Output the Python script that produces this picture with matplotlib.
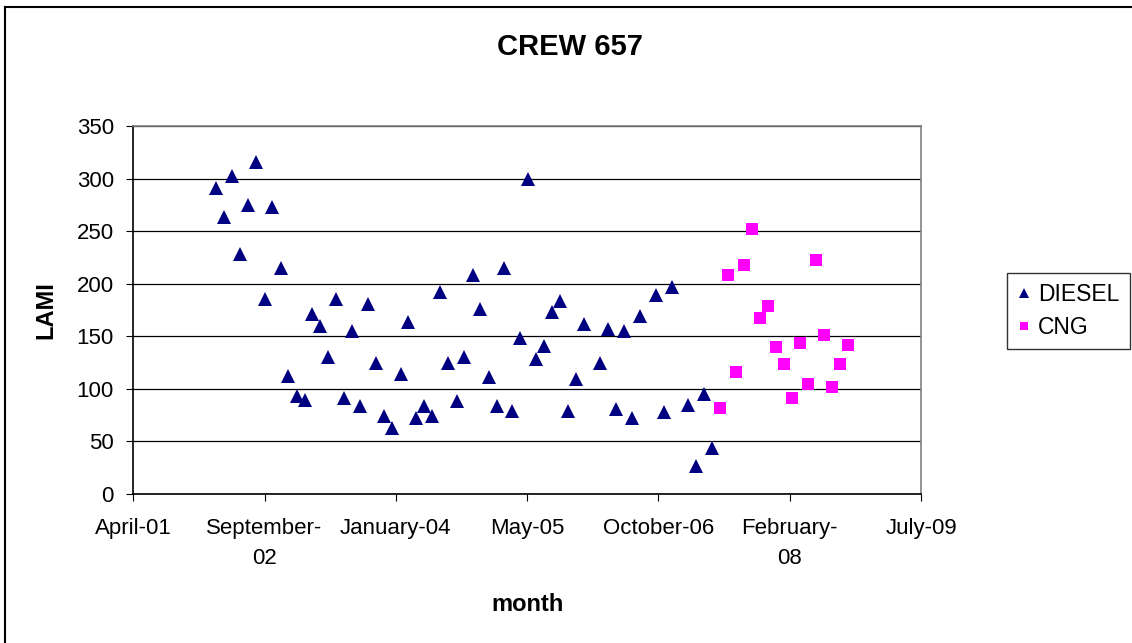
import pandas as pd
import matplotlib
matplotlib.use("Agg")
import matplotlib.pyplot as plt
from matplotlib.lines import Line2D

plt.rcParams['font.family'] = ['Liberation Sans', 'DejaVu Sans']

# monthly LAMI values
diesel_months = [
    "2002-03", "2002-04", "2002-05", "2002-06", "2002-07", "2002-08", "2002-09", "2002-10",
    "2002-11", "2002-12", "2003-01", "2003-02", "2003-03", "2003-04", "2003-05", "2003-06",
    "2003-07", "2003-08", "2003-09", "2003-10", "2003-11", "2003-12", "2004-01", "2004-02",
    "2004-03", "2004-04", "2004-05", "2004-06", "2004-07", "2004-08", "2004-09", "2004-10",
    "2004-11", "2004-12", "2005-01", "2005-02", "2005-03", "2005-04", "2005-05", "2005-06",
    "2005-07", "2005-08", "2005-09", "2005-10", "2005-11", "2005-12", "2006-01", "2006-03",
    "2006-04", "2006-05", "2006-06", "2006-07", "2006-08", "2006-10", "2006-11", "2006-12",
    "2007-02", "2007-03", "2007-04", "2007-05",
]
diesel_lami = [
    291, 263, 302, 228, 275, 316, 185, 273, 215, 112,
    93, 89, 171, 160, 130, 185, 91, 155, 84, 181,
    125, 74, 63, 114, 164, 72, 84, 74, 192, 125,
    88, 130, 208, 176, 111, 84, 215, 79, 148, 300,
    128, 141, 173, 184, 79, 109, 162, 125, 157, 81,
    155, 72, 169, 189, 78, 197, 85, 27, 95, 44,
]
cng_months = [
    "2007-06", "2007-07", "2007-08", "2007-09", "2007-10", "2007-11", "2007-12", "2008-01",
    "2008-02", "2008-03", "2008-04", "2008-05", "2008-06", "2008-07", "2008-08", "2008-09",
    "2008-10",
]
cng_lami = [82, 208, 116, 218, 252, 167, 179, 140, 124, 91, 144, 105, 223, 151, 102, 124, 142]

x_tick_labels = ["April-01", "September-\n02", "January-04", "May-05",
                 "October-06", "February-\n08", "July-09"]
y_ticks = [0, 50, 100, 150, 200, 250, 300, 350]


def main():
    fig = plt.figure(figsize=(11.32, 6.43), dpi=100)
    ax = fig.add_axes([133.3 / 1132, 1 - 494 / 643, (921 - 133.3) / 1132, (494 - 126) / 643])

    x_diesel = pd.to_datetime(diesel_months)
    x_cng = pd.to_datetime(cng_months)
    ax.plot(x_diesel, diesel_lami, linestyle='none', marker='^', markersize=9.5,
            color='#000080', markeredgewidth=0, label='DIESEL')
    ax.plot(x_cng, cng_lami, linestyle='none', marker='s', markersize=8,
            color='#FF00FF', markeredgewidth=0, label='CNG')

    # excel style date axis: 500 day major unit from April 2001
    start = pd.Timestamp("2001-04-19")
    ticks = [start + pd.Timedelta(days=500 * k) for k in range(len(x_tick_labels))]
    ax.set_xlim(ticks[0], ticks[-1])
    ax.set_xticks(ticks)
    ax.set_xticklabels(x_tick_labels, fontsize=16, linespacing=1.6)
    ax.set_ylim(0, 350)
    ax.set_yticks(y_ticks)
    ax.set_yticklabels([str(v) for v in y_ticks], fontsize=16)
    ax.tick_params(direction='out', length=5, width=0.8, color='black')
    ax.tick_params(axis='x', pad=12)
    ax.tick_params(axis='y', pad=9)

    ax.set_axisbelow(True)
    ax.yaxis.grid(True, color='black', linewidth=0.9)
    ax.spines['left'].set_color('black')
    ax.spines['bottom'].set_color('black')
    ax.spines['top'].set_color('#808080')
    ax.spines['right'].set_color('#808080')
    for s in ax.spines.values():
        s.set_linewidth(1.2)

    fig.text(570 / 1132, 1 - 47 / 643, 'CREW 657', fontsize=21, fontweight='bold',
             ha='center', va='center')
    ax.set_xlabel('month', fontsize=17, fontweight='bold', labelpad=17)
    ax.set_ylabel('LAMI', fontsize=17, fontweight='bold', labelpad=14)

    leg = fig.legend(loc='center left', bbox_to_anchor=(1007 / 1132, 1 - 311 / 643),
                     fontsize=16.5, frameon=True, fancybox=False, handlelength=0.6,
                     handletextpad=0.3, borderpad=0.45, labelspacing=0.45,
                     borderaxespad=0, markerscale=0.8)
    leg.get_frame().set_edgecolor('black')
    leg.get_frame().set_linewidth(1.0)

    # outer chart border (top and left visible)
    fig.add_artist(Line2D([5 / 1132, 1], [1 - 7 / 643, 1 - 7 / 643],
                          transform=fig.transFigure, color='black', linewidth=1.5))
    fig.add_artist(Line2D([5 / 1132, 5 / 1132], [0, 1 - 7 / 643],
                          transform=fig.transFigure, color='black', linewidth=1.5))

    fig.savefig('out.png', dpi=100)


if __name__ == "__main__":
    main()
